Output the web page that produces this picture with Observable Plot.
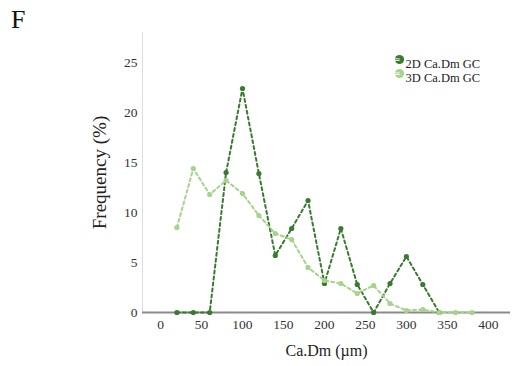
<!DOCTYPE html>
<html>
<head>
<meta charset="utf-8">
<script src="https://cdn.jsdelivr.net/npm/d3@7"></script>
<script src="https://cdn.jsdelivr.net/npm/@observablehq/plot@0.6"></script>
<style>
  html, body { margin: 0; padding: 0; background: #fff; }
  #chart { position: relative; width: 519px; height: 366px; }
  #panel { position: absolute; left: 11px; top: 5px; font: 26px "Liberation Serif", "Times New Roman", serif; color: #111; }
  #chart svg, #chart svg text { font-family: "Liberation Serif", "Times New Roman", serif !important; }
  #chart svg g[aria-label="y-axis tick label"] text,
  #chart svg g[aria-label="x-axis tick label"] text { font-size: 13.5px; fill: #333; }
  #chart svg g[aria-label="y-axis label"] text { font-size: 19px; fill: #222; }
  #chart svg g[aria-label="x-axis label"] text { font-size: 16px; fill: #222; }
  #chart svg g.legend-text text { font-size: 12.5px; fill: #222; }
</style>
</head>
<body>
<div id="chart"><div id="panel">F</div></div>
<script>
const sizes = [20, 40, 60, 80, 100, 120, 140, 160, 180, 200, 220, 240, 260, 280, 300, 320, 340, 360, 380];
const freq2D = [0, 0, 0, 14.0, 22.4, 13.9, 5.7, 8.4, 11.2, 2.9, 8.4, 2.8, 0, 2.9, 5.6, 2.8, 0, null, null];
const freq3D = [8.5, 14.4, 11.8, 13.2, 11.9, 9.7, 7.9, 7.3, 4.5, 3.2, 2.9, 1.9, 2.7, 0.9, 0.2, 0.3, 0, 0, 0];
const seriesNames = ["2D Ca.Dm GC", "3D Ca.Dm GC"];
const seriesColors = ["#3a7a30", "#a6d38d"];
const xTicks = [0, 50, 100, 150, 200, 250, 300, 350, 400];
const yTicks = [0, 5, 10, 15, 20, 25];

const rows = [];
sizes.forEach((s, i) => {
  if (freq2D[i] != null) rows.push({size: s, freq: freq2D[i], series: seriesNames[0]});
  if (freq3D[i] != null) rows.push({size: s, freq: freq3D[i], series: seriesNames[1]});
});

const legendMarks = seriesNames.flatMap((name, i) => [
  Plot.dot([name], {frameAnchor: "top-right", dx: -111, dy: 27 + 14 * i, fill: seriesColors[i], r: 4.6}),
  Plot.text(["\u2550"], {frameAnchor: "top-right", dx: -111, dy: 27 + 14 * i, fill: "#ffffff", fontSize: 10, lineAnchor: "middle"}),
  Plot.text([name], {frameAnchor: "top-right", dx: -105, dy: 27 + 14 * i, textAnchor: "start", className: "legend-text"})
]);

const plot = Plot.plot({
  width: 519,
  height: 366,
  marginLeft: 142,
  marginRight: 9,
  marginTop: 32,
  marginBottom: 54,
  style: {background: "#fff"},
  x: {domain: [-22, 427]},
  y: {domain: [0, 28]},
  color: {domain: seriesNames, range: seriesColors},
  marks: [
    Plot.ruleX([0], {x: () => -22, stroke: "#ddd", strokeWidth: 1}),
    Plot.axisY({ticks: yTicks, tickSize: 0, tickPadding: 5,
      label: "Frequency (%)", labelAnchor: "center", labelArrow: "none", labelOffset: 50}),
    Plot.axisX({ticks: xTicks, tickSize: 0, tickPadding: 7,
      label: "Ca.Dm (µm)", labelAnchor: "center", labelArrow: "none", labelOffset: 43}),
    Plot.ruleY([0], {stroke: "#8a8a8a", strokeWidth: 2}),
    Plot.line(rows, {x: "size", y: "freq", z: "series", stroke: "series",
      strokeWidth: 2, strokeDasharray: "3,3"}),
    Plot.dot(rows, {x: "size", y: "freq", fill: "series", r: 2.6}),
    ...legendMarks
  ]
});

document.getElementById("chart").appendChild(plot);
</script>
</body>
</html>
